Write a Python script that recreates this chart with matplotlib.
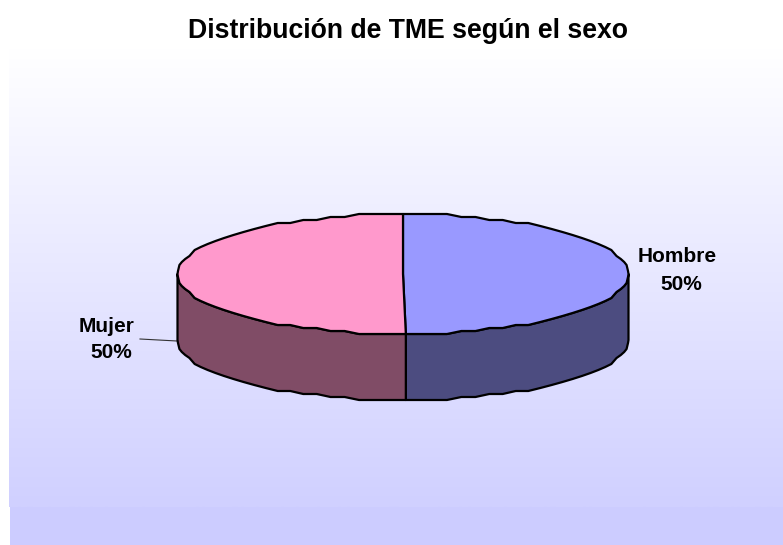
import numpy as np
import matplotlib
matplotlib.use('Agg')
import matplotlib.pyplot as plt
from matplotlib.patches import Polygon

plt.rcParams['font.family'] = ['Liberation Sans', 'DejaVu Sans']

categories = ['Hombre', 'Mujer']
values = [49.8, 50.2]
top_colors = ['#9999FF', '#FF99CC']
side_colors = ['#4C4C80', '#804C66']
title = 'Distribución de TME según el sexo'

cx, cy = 403, 274
rx, ry = 225.5, 60
depth = 66
snap = 3  # the original outline sits on a coarse grid, hence the wobble

fig = plt.figure(figsize=(7.83, 5.45), dpi=100)
ax = fig.add_axes([0, 0, 1, 1])

# background gradient, then the flat strip at the bottom
grad = np.linspace(0, 1, 256).reshape(-1, 1)
cmap = matplotlib.colors.LinearSegmentedColormap.from_list('bg', ['#FFFFFF', '#D0D0FF'])
ax.imshow(grad, cmap=cmap, extent=(9, 783, 507, 48), aspect='auto', zorder=0)
ax.fill_between([10, 783], 507, 545, color='#CCCCFF', lw=0, zorder=0)
ax.set_xlim(0, 783)
ax.set_ylim(545, 0)
ax.axis('off')

fracs = np.array(values) / sum(values)
edges = np.concatenate([[0], np.cumsum(fracs)]) * 2 * np.pi

# one shared set of rim points so walls and top faces meet exactly
grid = np.unique(np.r_[np.linspace(0, 2 * np.pi, 97), edges])
rim_x = cx + rx * np.sin(grid)
rim_y = cy - snap * np.round(ry * np.cos(grid) / snap)
for e in edges:
    k = np.argmin(np.abs(grid - e))
    rim_y[k] = cy - ry * np.cos(e)


def rim(a0, a1):
    m = (grid >= a0 - 1e-9) & (grid <= a1 + 1e-9)
    return rim_x[m], rim_y[m]


# side walls (only the front half, angles pi/2 to 3pi/2)
for i in range(len(values)):
    a0 = max(edges[i], np.pi / 2)
    a1 = min(edges[i + 1], 3 * np.pi / 2)
    x, y = rim(a0, a1)
    pts = np.column_stack([np.r_[x, x[::-1]], np.r_[y, y[::-1] + depth]])
    ax.add_patch(Polygon(pts, closed=True, fc=side_colors[i], ec='black', lw=1.6,
                         joinstyle='round', zorder=2))

# top faces
for i in range(len(values)):
    x, y = rim(edges[i], edges[i + 1])
    pts = np.column_stack([np.r_[cx, x], np.r_[cy, y]])
    ax.add_patch(Polygon(pts, closed=True, fc=top_colors[i], ec='black', lw=1.6,
                         joinstyle='round', zorder=3))

ax.plot([140, 177], [339, 341], color='#333333', lw=0.8, zorder=1)

ax.text(408, 31.5, title, fontsize=19.2, fontweight='bold', ha='center', va='center')
ax.text(677, 256, categories[0], fontsize=15, fontweight='bold', ha='center', va='center')
ax.text(681, 284, '%d%%' % round(values[0]), fontsize=15, fontweight='bold', ha='center', va='center')
ax.text(107, 326, categories[1], fontsize=15, fontweight='bold', ha='center', va='center')
ax.text(111, 353, '%d%%' % round(values[1]), fontsize=15, fontweight='bold', ha='center', va='center')

fig.savefig('out.png', dpi=100)
